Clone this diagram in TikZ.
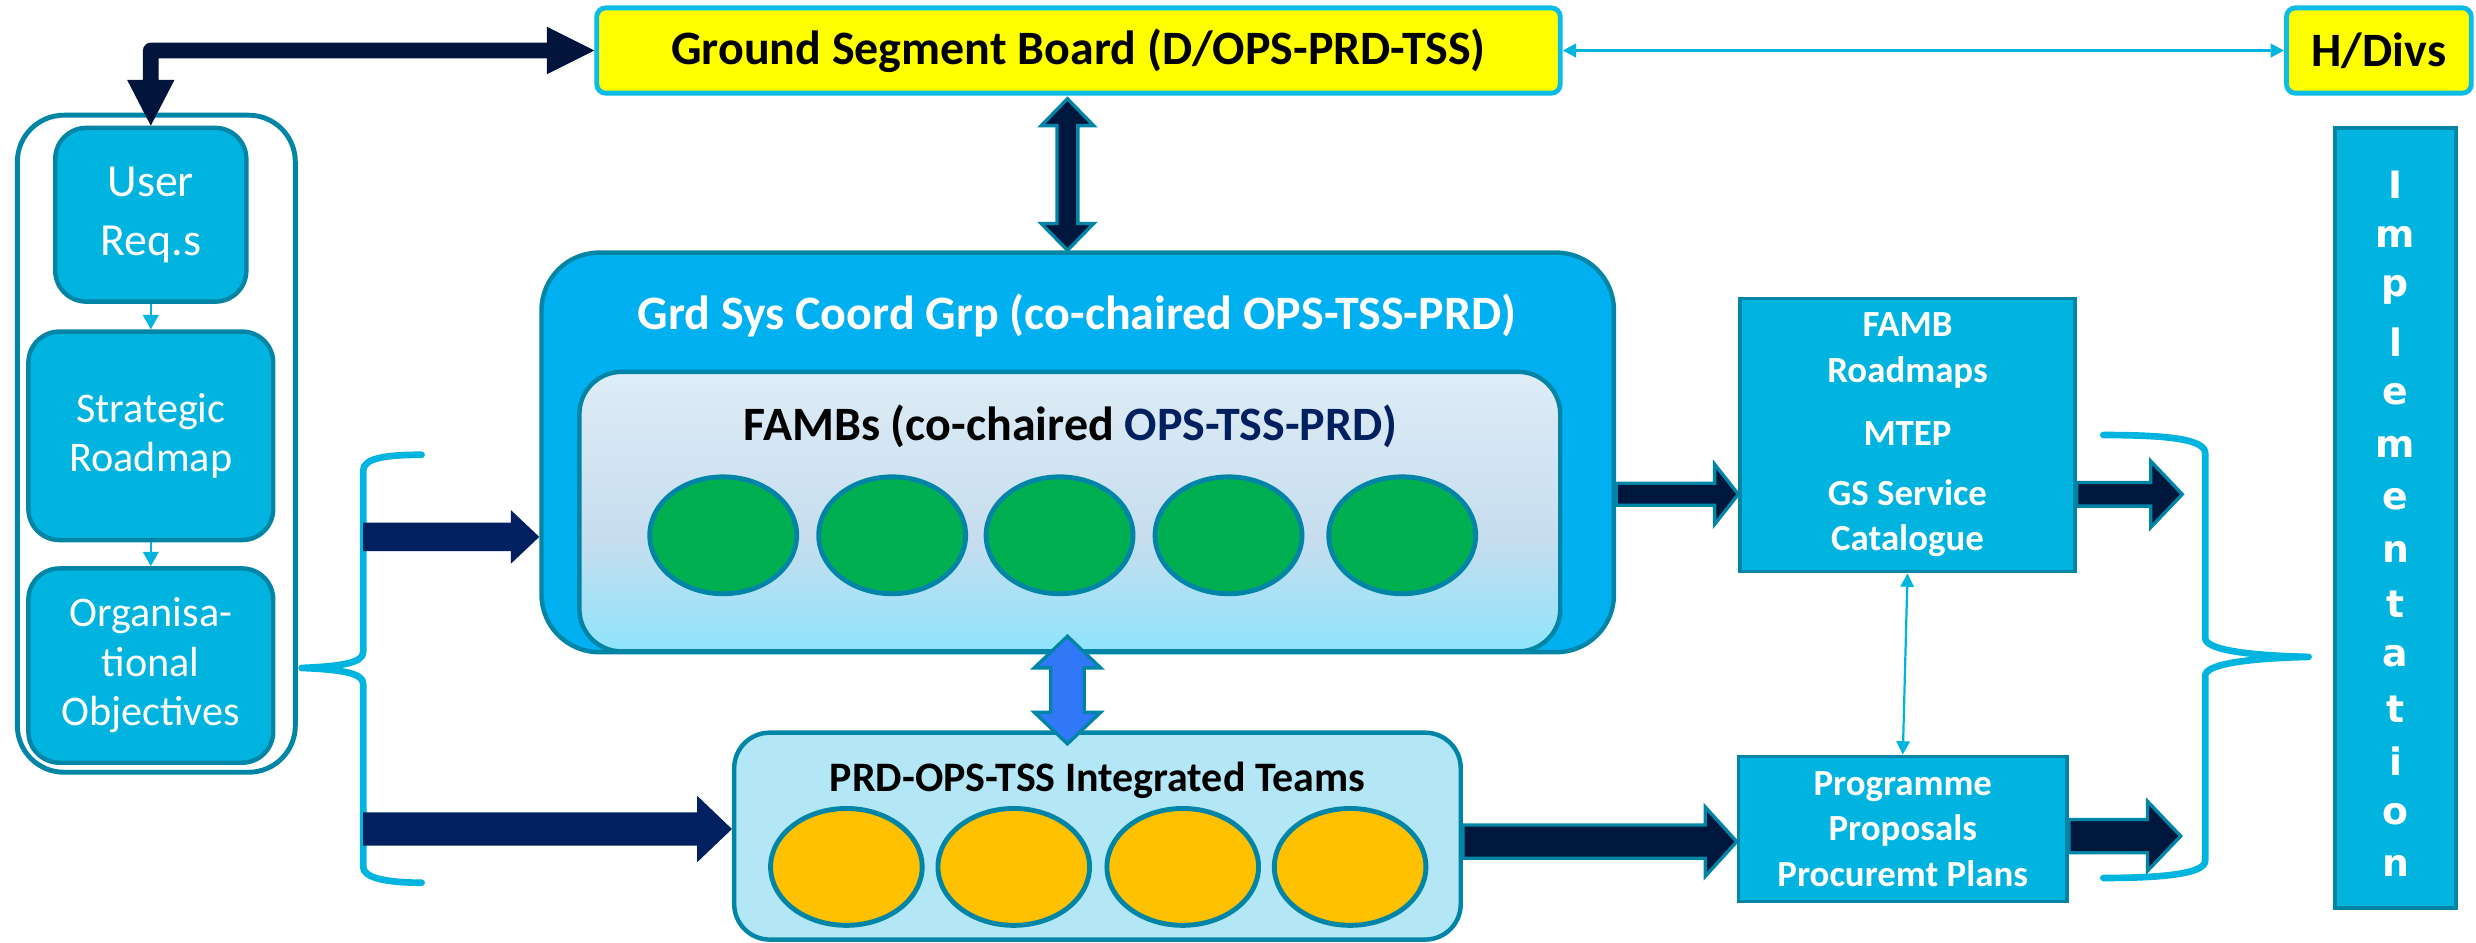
\documentclass[tikz,border=0pt]{standalone}
\usepackage{fontspec}
\setmainfont{Carlito}
\newfontfamily\heavyfont{DejaVu Sans}
\usetikzlibrary{calc,shapes.geometric,arrows.meta}

% palette
\definecolor{cyanb}{HTML}{00B4DF}
\definecolor{tealb}{HTML}{0085A6}
\definecolor{cyanl}{HTML}{0DBCE6}
\definecolor{linec}{HTML}{00B4E0}
\definecolor{gscfill}{HTML}{00B0F0}
\definecolor{prdfill}{HTML}{B4E7F6}
\definecolor{navyE}{HTML}{00143C}
\definecolor{navyC}{HTML}{002060}
\definecolor{navyB}{HTML}{00173D}
\definecolor{navyT}{HTML}{002060}
\definecolor{blueA}{HTML}{3078F8}
\definecolor{greenE}{HTML}{00B050}
\definecolor{orangeE}{HTML}{FFC000}
\definecolor{yellowB}{HTML}{FFFF00}
\definecolor{shB}{HTML}{A2ECFF}
\definecolor{shL}{HTML}{80E6FF}
\definecolor{shM}{HTML}{C6DDEE}
\definecolor{shT}{HTML}{F2FAFD}

\pgfdeclareverticalshading{fambshade}{100bp}{color(0bp)=(shB); color(20bp)=(shL); color(45bp)=(shM); color(100bp)=(shT)}

% one drawing unit
\newcommand{\uu}{0.7113pt}

% horizontal block arrow: style, from, to, shaft half, head half, head length
\newcommand{\harr}[6]{%
  \path[#1] let \p1=#2, \p2=#3 in
    (\x1,{\y1-#4*\uu}) -- ({\x2-#6*\uu},{\y1-#4*\uu}) -- ({\x2-#6*\uu},{\y1-#5*\uu})
    -- (\x2,\y1) -- ({\x2-#6*\uu},{\y1+#5*\uu}) -- ({\x2-#6*\uu},{\y1+#4*\uu})
    -- (\x1,{\y1+#4*\uu}) -- cycle;}

% vertical double-headed block arrow: style, top, bottom, shaft half, head half, head length
\newcommand{\vdarr}[6]{%
  \path[#1] let \p1=#2, \p2=#3 in
    (\x1,\y1) -- ({\x1+#5*\uu},{\y1-#6*\uu}) -- ({\x1+#4*\uu},{\y1-#6*\uu})
    -- ({\x1+#4*\uu},{\y2+#6*\uu}) -- ({\x1+#5*\uu},{\y2+#6*\uu}) -- (\x1,\y2)
    -- ({\x1-#5*\uu},{\y2+#6*\uu}) -- ({\x1-#4*\uu},{\y2+#6*\uu})
    -- ({\x1-#4*\uu},{\y1-#6*\uu}) -- ({\x1-#5*\uu},{\y1-#6*\uu}) -- cycle;}

\newcommand{\fTitle}{\fontsize{21.6pt}{26pt}\selectfont\bfseries}
\newcommand{\fTeam}{\fontsize{18.9pt}{23pt}\selectfont\bfseries}
\newcommand{\fSide}{\fontsize{16.6pt}{20.3pt}\selectfont\bfseries}
\newcommand{\fUser}{\fontsize{20.7pt}{26.8pt}\selectfont}
\newcommand{\fLeft}{\fontsize{19pt}{22.3pt}\selectfont}

\begin{document}
\begin{tikzpicture}[x=0.025cm,y=-0.025cm,
  sz/.style 2 args={minimum width=#1*\uu, minimum height=#2*\uu},
  cbox/.style={draw=tealb, fill=cyanb, line width=2pt, inner sep=0pt,
    align=center, text=white},
  ybox/.style={draw=cyanl, fill=yellowB, line width=2.2pt, rounded corners=4pt,
    inner sep=0pt, font=\fTitle},
  ell/.style={ellipse, draw=tealb, line width=2.2pt, inner sep=0pt, sz={#1}{74}},
  smallarr/.style={draw=linec, line width=1pt, -{Triangle[length=6.5pt,width=7pt]}},
  thinarr/.style={draw=linec, line width=1.3pt,
    {Triangle[length=6pt,width=6pt]}-{Triangle[length=6pt,width=6pt]}},
  bracepath/.style={draw=linec, line width=3pt, line cap=round, line join=round},
  plainarrow/.style={fill=navyC},
  rimarrow/.style={fill=navyB, draw=tealb, line width=1.5pt},
  letter/.style={text=white, font=\heavyfont\bfseries\fontsize{17pt}{17pt}\selectfont,
    inner sep=0pt}]

\useasboundingbox (0,0) rectangle (1568,597);

% ---------- left column ----------
\node[draw=tealb, fill=white, line width=2.2pt, rounded corners=21pt, sz={176}{416}]
  (lgrp) at (99,281) {};
\node[cbox, rounded corners=14pt, sz={121}{110}, font=\fUser] (ureq) at (95.5,136) {User\\Req.s};
\node[cbox, rounded corners=14pt, sz={155}{132}, font=\fLeft] (strat) at (95.5,276) {Strategic\\Roadmap};
\node[cbox, rounded corners=14pt, sz={155}{123}, font=\fLeft] (org) at (95.5,421.5) {Organisa-\\tional\\Objectives};
\draw[smallarr] (ureq.south) -- (strat.north);
\draw[smallarr] (strat.south) -- (org.north);

% ---------- top row ----------
\node[ybox, sz={610}{54}] (gsb) at (683,32) {Ground Segment Board (D/OPS-PRD-TSS)};
\node[ybox, sz={117}{54}] (hdiv) at (1506.5,32) {H/Divs};
\draw[thinarr] (gsb.east) -- (hdiv.west);

% ---------- coordination group ----------
\node[draw=tealb, fill=gscfill, line width=2pt, rounded corners=26pt, sz={679}{253}]
  (gsc) at (682.5,286.5) {};
\node[text=white, font=\fTitle, inner sep=0pt] (gsct) at (682,200)
  {Grd Sys Coord Grp (co-chaired OPS-TSS-PRD)};
\node[draw=tealb, shading=fambshade, line width=2pt, rounded corners=19pt, sz={621}{177}]
  (fambs) at (677.5,324) {};
\node[font=\fTitle, inner sep=0pt] (fambst) at (678,270)
  {FAMBs (co-chaired \textcolor{navyT}{OPS-TSS-PRD)}};
\foreach \xx [count=\i] in {458,565,671,778,888}
  \node[ell=93, fill=greenE] (g\i) at (\xx,339) {};

% ---------- integrated teams ----------
\node[draw=tealb, fill=prdfill, line width=2pt, rounded corners=16pt, sz={460}{131}]
  (prd) at (695,529.5) {};
\node[font=\fTeam, inner sep=0pt] (prdt) at (695,494) {PRD-OPS-TSS Integrated Teams};
\foreach \xx [count=\i] in {536,642,749,855}
  \node[ell=96, fill=orangeE] (o\i) at (\xx,549) {};

% ---------- outputs ----------
\node[cbox, line width=1.6pt, sz={212}{173}, font=\fSide] (fambr) at (1208,275.5)
  {FAMB\\Roadmaps\\[8.3pt]MTEP\\[6.8pt]GS Service\\Catalogue};
\node[cbox, line width=1.6pt, sz={208}{92}, font=\fSide] (prog) at (1205,525)
  {Programme\\[0.3pt]Proposals\\[0.3pt]Procuremt Plans};
\draw[thinarr, line width=1pt] (fambr.south) -- (prog.north);

\node[cbox, line width=1.8pt, sz={76}{494}] (impl) at (1517,328) {};
\foreach \ch [count=\i from 0] in {I,m,p,l,e,m,e,n,t,a,t,i,o,n}
  \node[letter] (il\i) at (1517,{117+\i*33.2}) {\ch};

% ---------- braces ----------
\coordinate (lbtop) at (267,288);
\coordinate (lbtip) at (191,423);
\coordinate (lbbot) at (267,559);
\draw[bracepath] (lbtop) .. controls (245,288) and (230,290) .. (230,298)
  -- (230,413) .. controls (230,420) and (215,422) .. (lbtip)
  .. controls (215,424) and (230,426) .. (230,433)
  -- (230,549) .. controls (230,556) and (245,559) .. (lbbot);
\coordinate (lbu) at (230,340);
\coordinate (lbl) at (230,525);

\coordinate (rbtop) at (1332,275.5);
\coordinate (rbtip) at (1462,416);
\coordinate (rbbot) at (1332,556);
\draw[bracepath] (rbtop) .. controls (1372,275.5) and (1396.5,278) .. (1396.5,287)
  -- (1396.5,404) .. controls (1396.5,411) and (1420,415) .. (rbtip)
  .. controls (1420,417) and (1396.5,421) .. (1396.5,428)
  -- (1396.5,545) .. controls (1396.5,553) and (1372,556) .. (rbbot);
\coordinate (rbu) at (1382,313);
\coordinate (rbl) at (1381,529.5);

% ---------- block arrows ----------
\harr{plainarrow}{(lbu)}{(gsc.west)}{9}{17}{18}
\harr{plainarrow}{(lbl)}{(prd.west)}{10.5}{21}{22}
\harr{rimarrow}{([yshift=-26.5*\uu]gsc.east)}{(fambr.west)}{7}{19}{15}
\harr{rimarrow}{([yshift=-37.5*\uu]fambr.east)}{(rbu)}{7.5}{21}{20}
\harr{rimarrow}{([yshift=-4.5*\uu]prog.east)}{(rbl)}{10.5}{22}{21}
\harr{rimarrow}{([yshift=-3.5*\uu]prd.east)}{(prog.west)}{10.5}{22}{20}

\vdarr{rimarrow}{([xshift=-7*\uu,yshift=-2*\uu]gsb.south)}{(gsc.north)}{6.6}{16.6}{17}
\vdarr{fill=blueA, draw=tealb, line width=1.5pt}{([xshift=-1.5*\uu,yshift=11*\uu]fambs.south)}{([yshift=-8.5*\uu]prd.north)}{10.6}{21}{20}

% elbow link from the user requirements to the board
\path[fill=navyE] let \p1=(ureq.north), \p2=(gsb.west) in
  (\x1,\y1) -- ({\x1+15*\uu},{\y1+29*\uu}) -- ({\x1+5*\uu},{\y1+29*\uu})
  -- ({\x1+5*\uu},{\y2-5*\uu}) -- ({\x2-30*\uu},{\y2-5*\uu}) -- ({\x2-30*\uu},{\y2-15*\uu})
  -- (\x2,\y2) -- ({\x2-30*\uu},{\y2+15*\uu}) -- ({\x2-30*\uu},{\y2+5*\uu})
  -- (\x1,{\y2+5*\uu}) arc[start angle=90, end angle=180, radius=5*\uu]
  -- ({\x1-5*\uu},{\y1+29*\uu}) -- ({\x1-15*\uu},{\y1+29*\uu}) -- cycle;

\end{tikzpicture}
\end{document}
